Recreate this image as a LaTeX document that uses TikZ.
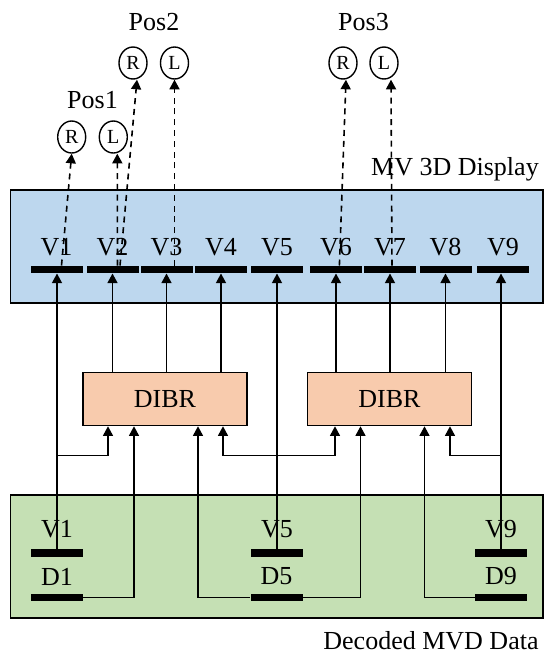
\documentclass[tikz,border=0pt]{standalone}
\usepackage{fontspec}
\setmainfont{Liberation Serif}
\usetikzlibrary{arrows.meta,positioning,calc,shapes.geometric}
\definecolor{dispfill}{HTML}{BDD7EE}
\definecolor{datafill}{HTML}{C5E0B4}
\definecolor{dibrfill}{HTML}{F8CBAD}

\begin{document}
\begin{tikzpicture}[
    x=0.5pt, y=-0.5pt,
    font=\fontsize{13}{15}\selectfont,
    panel/.style={draw, line width=.9pt, inner sep=0pt},
    proc/.style={draw, line width=.8pt, fill=dibrfill, inner sep=0pt, minimum width=82pt, minimum height=26.5pt},
    bar/.style={fill=black, inner sep=0pt, minimum width=26pt, minimum height=3.6pt},
    lbl/.style={inner sep=0pt},
    eye/.style={draw, ellipse, line width=.7pt, inner sep=0pt, minimum width=14pt, minimum height=16pt, font=\fontsize{10}{11}\selectfont},
    arrow/.style={-{Triangle[length=4.8pt,width=5pt]}, line width=.75pt},
    dasharrow/.style={arrow, line width=.8pt, dash pattern=on 3pt off 2.4pt}
  ]
    \useasboundingbox (0,0) rectangle (544,655);

    \node[panel, fill=dispfill, minimum width=266.25pt, minimum height=56.5pt] (display) at (276.75,246.5) {};
    \node[panel, fill=datafill, minimum width=266.25pt, minimum height=61.5pt] (data) at (276.75,556.5) {};
    \node (disptitle) at (455,169) {MV 3D Display};
    \node (datatitle) at (431,641) {Decoded MVD Data};

    \node[bar] (v1) at (56.5,269.5) {};
    \node[bar] (v2) at (112.5,269.5) {};
    \node[bar] (v3) at (166.5,269.5) {};
    \node[bar] (v4) at (221,269.5) {};
    \node[bar] (v5) at (277,269.5) {};
    \node[bar] (v6) at (336,269.5) {};
    \node[bar] (v7) at (390,269.5) {};
    \node[bar] (v8) at (445.5,269.5) {};
    \node[bar] (v9) at (503,269.5) {};
    \node[lbl, above=4.75pt of v1] {V1};
    \node[lbl, above=4.75pt of v2] {V2};
    \node[lbl, above=4.75pt of v3] {V3};
    \node[lbl, above=4.75pt of v4] {V4};
    \node[lbl, above=4.75pt of v5] {V5};
    \node[lbl, above=4.75pt of v6] {V6};
    \node[lbl, above=4.75pt of v7] {V7};
    \node[lbl, above=4.75pt of v8] {V8};
    \node[lbl, above=4.75pt of v9] {V9};

    \node[bar] (g1) at (57,553) {};
    \node[bar] (d1) at (57,597.5) {};
    \node[bar] (g5) at (277,553) {};
    \node[bar] (d5) at (276.5,597.5) {};
    \node[bar] (g9) at (501,553) {};
    \node[bar] (d9) at (501,597.5) {};
    \node[lbl, above=5.5pt of g1] {V1};
    \node[lbl, above=4pt of d1] {D1};
    \node[lbl, above=5.5pt of g5] {V5};
    \node[lbl, above=4pt of d5] {D5};
    \node[lbl, above=5.5pt of g9] {V9};
    \node[lbl, above=4pt of d9] {D9};

    \node[proc] (dibrA) at (165,399) {DIBR};
    \node[proc] (dibrB) at (389.5,399) {DIBR};
    \coordinate (bus) at (0,455.5);

    \node[eye] (r1) at (71.7,137) {R};
    \node[eye] (l1) at (113.3,137) {L};
    \node[eye] (r2) at (133,63) {R};
    \node[eye] (l2) at (174.5,63) {L};
    \node[eye] (r3) at (343,63) {R};
    \node[eye] (l3) at (384,63) {L};
    \node (pos1) at (92.5,100) {Pos1};
    \node (pos2) at (154,22) {Pos2};
    \node (pos3) at (363.5,22) {Pos3};

    \draw[arrow] (g1.north) -- (g1.north |- v1.south);
    \draw[arrow] (g5.north) -- (g5.north |- v5.south);
    \draw[arrow] (g9.north) -- (g9.north |- v9.south);
    \draw[arrow] (v2.south |- dibrA.north) -- (v2.south);
    \draw[arrow] (v3.south |- dibrA.north) -- (v3.south);
    \draw[arrow] (v4.south |- dibrA.north) -- (v4.south);
    \draw[arrow] (v6.south |- dibrB.north) -- (v6.south);
    \draw[arrow] (v7.south |- dibrB.north) -- (v7.south);
    \draw[arrow] (v8.south |- dibrB.north) -- (v8.south);
    \draw[arrow] (g1.north |- bus) -| ($(dibrA.south)+(-57,0)$);
    \draw[arrow] (d1.east) -| ($(dibrA.south)+(-31,0)$);
    \draw[arrow] (d5.west) -| ($(dibrA.south)+(33,0)$);
    \draw[arrow] (g5.north |- bus) -| ($(dibrA.south)+(58,0)$);
    \draw[arrow] (g5.north |- bus) -| ($(dibrB.south)+(-54.5,0)$);
    \draw[arrow] (d5.east) -| ($(dibrB.south)+(-29,0)$);
    \draw[arrow] (d9.west) -| ($(dibrB.south)+(35,0)$);
    \draw[arrow] (g9.north |- bus) -| ($(dibrB.south)+(60.5,0)$);

    \draw[dasharrow] ([xshift=2.5pt]v1.north) -- (r1.south);
    \draw[dasharrow] ([xshift=2.5pt]v2.north) -- ([xshift=2pt]l1.south);
    \draw[dasharrow] ([xshift=3.75pt]v2.north) -- ([xshift=2pt]r2.south);
    \draw[dasharrow] ([xshift=4pt]v3.north) -- (l2.south);
    \draw[dasharrow] ([xshift=1.7pt]v6.north) -- ([xshift=1.5pt]r3.south);
    \draw[dasharrow] ([xshift=1pt]v7.north) -- ([xshift=3.5pt]l3.south);
  \end{tikzpicture}
\end{document}
